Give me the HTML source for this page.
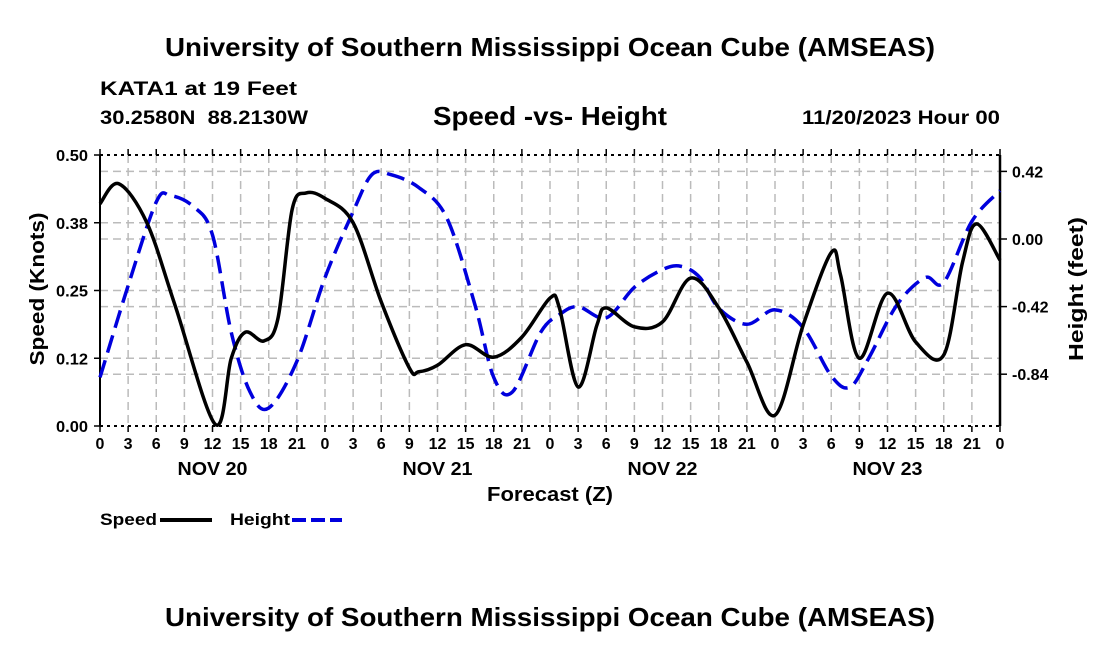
<!DOCTYPE html>
<html><head><meta charset="utf-8"><style>
html,body{margin:0;padding:0;background:#fff;}
svg text{font-family:"Liberation Sans",sans-serif;font-weight:bold;fill:#000;}
</style></head><body>
<svg id="chart" width="1100" height="650" viewBox="0 0 1100 650" xmlns="http://www.w3.org/2000/svg">
<text x="550" y="56" font-size="26" text-anchor="middle" textLength="770" lengthAdjust="spacingAndGlyphs">University of Southern Mississippi Ocean Cube (AMSEAS)</text>
<text x="100" y="95" font-size="19" textLength="197" lengthAdjust="spacingAndGlyphs">KATA1 at 19 Feet</text>
<text x="100" y="124" font-size="19" textLength="208" lengthAdjust="spacingAndGlyphs" xml:space="preserve">30.2580N  88.2130W</text>
<text x="550" y="125" font-size="26" text-anchor="middle" textLength="234" lengthAdjust="spacingAndGlyphs">Speed -vs- Height</text>
<text x="1000" y="124" font-size="19" text-anchor="end" textLength="198" lengthAdjust="spacingAndGlyphs">11/20/2023 Hour 00</text>
<g id="grid"></g>
<g id="axes"></g>
<g id="series"></g>
<text x="550" y="501" font-size="20" text-anchor="middle" textLength="126" lengthAdjust="spacingAndGlyphs">Forecast (Z)</text>
<text transform="translate(44,289) rotate(-90)" font-size="20" text-anchor="middle" textLength="153" lengthAdjust="spacingAndGlyphs">Speed (Knots)</text>
<text transform="translate(1083,289) rotate(-90)" font-size="20" text-anchor="middle" textLength="144" lengthAdjust="spacingAndGlyphs">Height (feet)</text>
<g>
<text x="100" y="525" font-size="17" textLength="57" lengthAdjust="spacingAndGlyphs">Speed</text>
<line x1="160" y1="520" x2="212" y2="520" stroke="#000" stroke-width="4"/>
<text x="230" y="525" font-size="17" textLength="60" lengthAdjust="spacingAndGlyphs">Height</text>
<line x1="292" y1="520" x2="342" y2="520" stroke="#0000dd" stroke-width="4" stroke-dasharray="14,5"/>
</g>
<text x="550" y="626" font-size="26" text-anchor="middle" textLength="770" lengthAdjust="spacingAndGlyphs">University of Southern Mississippi Ocean Cube (AMSEAS)</text>
</svg>
<script>
const speedHours=[0,2,5,8,12.3,14,15.5,17.5,19,20.5,22,24,27,30,33,34,36,39,42,45,48,49,51,53,54,57,60,63,66,69,72,75,78,79,81,84,87,90,92,93.5,96];
const speedValues=[0.41,0.447,0.375,0.223,0.003,0.125,0.173,0.157,0.2,0.40,0.43,0.42,0.375,0.229,0.107,0.10,0.112,0.15,0.127,0.164,0.236,0.218,0.072,0.186,0.218,0.183,0.192,0.273,0.218,0.118,0.02,0.186,0.32,0.278,0.125,0.245,0.155,0.131,0.302,0.373,0.306];
const heightHours=[0,3,6,7.5,10,12,14,16,18,21,24,27,29,31,34,37,40,42,44,47,49,51,54,57,60,62,64,66,69,72,75,78,80,82,85,88,90,93,96];
const heightValues=[-0.86,-0.29,0.23,0.27,0.20,0.025,-0.58,-0.95,-1.05,-0.76,-0.24,0.17,0.40,0.40,0.32,0.13,-0.41,-0.86,-0.95,-0.58,-0.47,-0.42,-0.49,-0.30,-0.19,-0.17,-0.24,-0.43,-0.53,-0.44,-0.55,-0.85,-0.92,-0.74,-0.41,-0.24,-0.27,0.11,0.30];
const xTickLabels=["0","3","6","9","12","15","18","21"];
const dayLabels=["NOV 20","NOV 21","NOV 22","NOV 23"];
const speedTicks=[0,0.125,0.25,0.375,0.5];
const speedTickLabels=["0.00","0.12","0.25","0.38","0.50"];
const heightTicks=[-0.84,-0.42,0,0.42];
const heightTickLabels=["-0.84","-0.42","0.00","0.42"];

const L=100,R=1000,T=155,B=426;
const xS=h=>L+h*(R-L)/96;
const yS=v=>B-v*(B-T)/0.5;
const yH=v=>239-v*(67.6/0.42);
const NS="http://www.w3.org/2000/svg";
function mk(tag,attrs,parent){const e=document.createElementNS(NS,tag);for(const k in attrs)e.setAttribute(k,attrs[k]);parent.appendChild(e);return e;}
const grid=document.getElementById('grid'),axes=document.getElementById('axes'),series=document.getElementById('series');
for(let i=1;i<32;i++){
 const l=mk('line',{x1:xS(i*3),x2:xS(i*3),y1:T,y2:B,stroke:'#bbb','stroke-width':1.5,'stroke-dasharray':'8,5'},grid);
 
 
}
speedTicks.forEach((v,i)=>{
 if(i>0&&i<speedTicks.length-1){const l=mk('line',{x1:L,x2:R,y1:yS(v),y2:yS(v),stroke:'#bbb','stroke-width':1.5,'stroke-dasharray':'8,5'},grid);
 
 }
 const tk=mk('line',{x1:L-6,x2:L,y1:yS(v),y2:yS(v),stroke:'#000','stroke-width':1.5},axes);
 
 
 const t=mk('text',{x:L-12,y:yS(v)+6,'font-size':16,'text-anchor':'end',textLength:32,lengthAdjust:'spacingAndGlyphs'},axes);t.textContent=speedTickLabels[i];
 
 
});
heightTicks.forEach((v,i)=>{
 const l=mk('line',{x1:L,x2:R,y1:yH(v),y2:yH(v),stroke:'#bbb','stroke-width':1.5,'stroke-dasharray':'8,5'},grid);
 
 
 const tk=mk('line',{x1:R,x2:R+7,y1:yH(v),y2:yH(v),stroke:'#000','stroke-width':1.5},axes);
 
 
 const t=mk('text',{x:R+12,y:yH(v)+6,'font-size':16},axes);t.textContent=heightTickLabels[i];
 
 
});
mk('line',{x1:L,x2:R,y1:T,y2:T,stroke:'#000','stroke-width':2,'stroke-dasharray':'3,4'},axes);
mk('line',{x1:L,x2:R,y1:B,y2:B,stroke:'#000','stroke-width':2,'stroke-dasharray':'3,4'},axes);
mk('line',{x1:L,x2:L,y1:T,y2:B,stroke:'#000','stroke-width':2},axes);
mk('line',{x1:R,x2:R,y1:T,y2:B,stroke:'#000','stroke-width':2.5},axes);
for(let i=0;i<=32;i++){
 const x=xS(i*3);
 const tk=mk('line',{x1:x,x2:x,y1:B,y2:B+6,stroke:'#000','stroke-width':1.5},axes);
 
 
 const tk2=mk('line',{x1:x,x2:x,y1:T-6,y2:T,stroke:'#000','stroke-width':1.5},axes);
 
 
 const t=mk('text',{x:x,y:449,'font-size':16,'text-anchor':'middle'},axes);t.textContent=xTickLabels[i%8];
 
 
}
dayLabels.forEach((d,i)=>{const t=mk('text',{x:xS(i*24+12),y:475,'font-size':18,'text-anchor':'middle',textLength:70,lengthAdjust:'spacingAndGlyphs'},axes);t.textContent=d;
 
 });
function smooth(hs,vs,fy){
 const p=hs.map((h,i)=>[xS(h),fy(vs[i])]);
 let d='M'+p[0][0]+','+p[0][1];
 for(let i=0;i<p.length-1;i++){
  const p0=p[Math.max(0,i-1)],p1=p[i],p2=p[i+1],p3=p[Math.min(p.length-1,i+2)];
  const c1=[p1[0]+(p2[0]-p0[0])/6,p1[1]+(p2[1]-p0[1])/6],c2=[p2[0]-(p3[0]-p1[0])/6,p2[1]-(p3[1]-p1[1])/6];
  d+=' C'+c1+' '+c2+' '+p2;
 }
 return d;
}
const hp=mk('path',{d:smooth(heightHours,heightValues,yH),fill:'none',stroke:'#0000dd','stroke-width':3.5,'stroke-dasharray':'18,8'},series);


const sp=mk('path',{d:smooth(speedHours,speedValues,yS),fill:'none',stroke:'#000','stroke-width':3.5},series);


</script>
</body></html>
